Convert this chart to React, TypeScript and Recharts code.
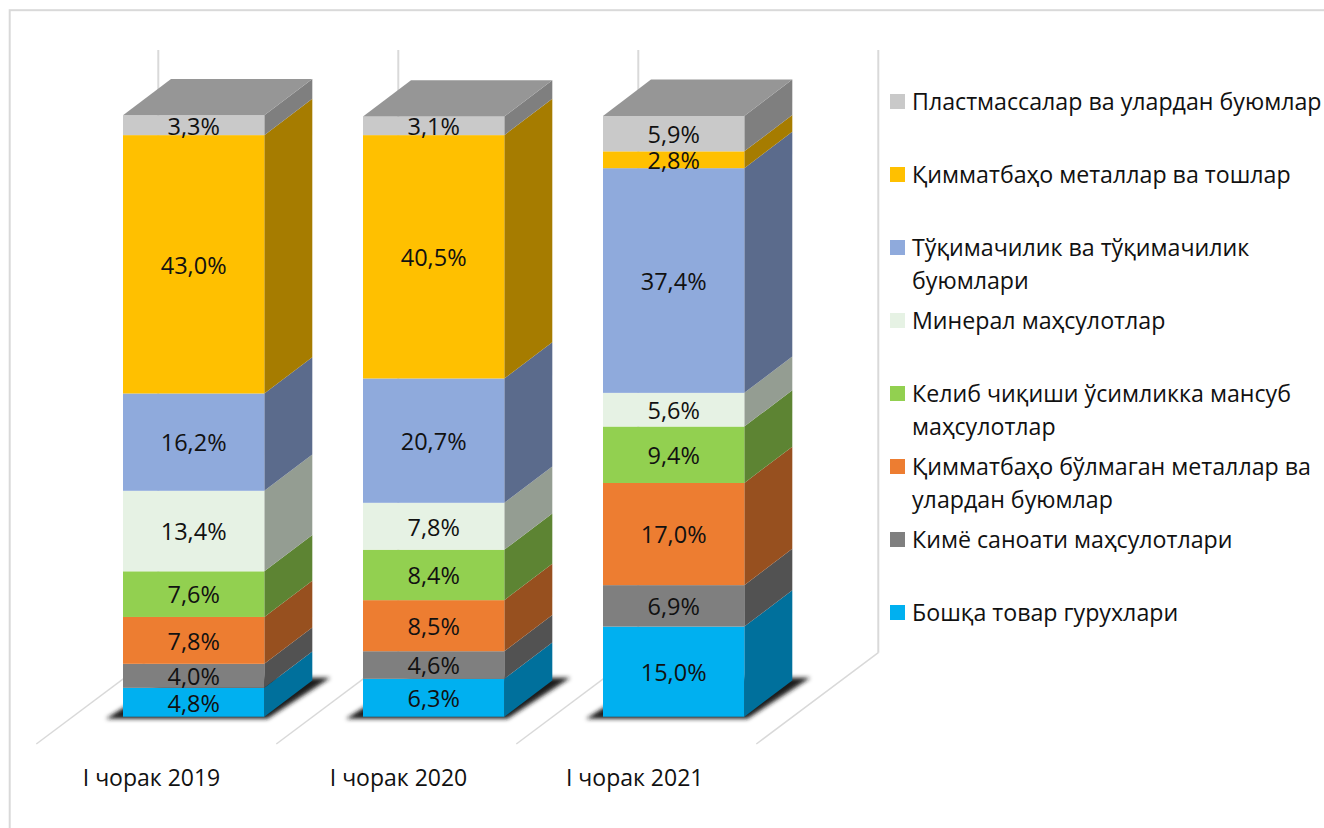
import { BarChart, Bar, XAxis, YAxis, LabelList, Legend } from "recharts";

const FONT = "'Open Sans', sans-serif";

const categories = ["I чорак 2019", "I чорак 2020", "I чорак 2021"];

const seriesNames = [
  "Бошқа товар гурухлари",
  "Кимё саноати маҳсулотлари",
  "Қимматбаҳо бўлмаган металлар ва\nулардан буюмлар",
  "Келиб чиқиши ўсимликка мансуб\nмаҳсулотлар",
  "Минерал маҳсулотлар",
  "Тўқимачилик ва тўқимачилик\nбуюмлари",
  "Қимматбаҳо металлар ва тошлар",
  "Пластмассалар ва улардан буюмлар",
];

const otherGoods = [4.8, 6.3, 15.0];
const chemicals = [4.0, 4.6, 6.9];
const baseMetals = [7.8, 8.5, 17.0];
const plantProducts = [7.6, 8.4, 9.4];
const minerals = [13.4, 7.8, 5.6];
const textiles = [16.2, 20.7, 37.4];
const preciousMetals = [43.0, 40.5, 2.8];
const plastics = [3.3, 3.1, 5.9];

const seriesValues = [
  otherGoods,
  chemicals,
  baseMetals,
  plantProducts,
  minerals,
  textiles,
  preciousMetals,
  plastics,
];

const frontColors = ["#00B0F0", "#7F7F7F", "#ED7D31", "#92D050", "#E6F2E4", "#8FAADC", "#FFC000", "#C9C9C9"];
const sideColors = ["#00709C", "#525252", "#97501F", "#5D8433", "#949D92", "#5B6B8C", "#A67C00", "#7F7F7F"];
const topColor = "#969696";
const wallColor = "#D9D9D9";

const data = categories.map((name, i) => {
  const row: Record<string, string | number> = { name };
  seriesValues.forEach((values, s) => {
    row["s" + s] = values[i];
  });
  return row;
});

// fake 3d depth of the columns
const DEPTH_X = 48;
const DEPTH_Y = 36.3;

const PLOT_LEFT = 74;
const BAND = 240;
const tickShift = [-42.5, -35.5, -39.3];

const pts = (list: number[][]) => list.map((p) => p.join(",")).join(" ");

const Segment = (props: any) => {
  const { x, y, width, height, seriesIndex } = props;
  const right = x + width;
  const bottom = y + height;
  return (
    <g>
      {seriesIndex === 0 && (
        <polygon
          points={pts([
            [x - 17, bottom + 2],
            [right + 3, bottom + 2],
            [right + 66, bottom - 39],
            [x + 48, bottom - 39],
          ])}
          fill="#1c1c1c"
          filter="url(#baseShadow)"
        />
      )}
      <polygon
        points={pts([
          [right, y],
          [right + DEPTH_X, y - DEPTH_Y],
          [right + DEPTH_X, bottom - DEPTH_Y],
          [right, bottom],
        ])}
        fill={sideColors[seriesIndex]}
      />
      <rect x={x} y={y} width={width} height={height} fill={frontColors[seriesIndex]} />
      {seriesIndex === seriesValues.length - 1 && (
        <polygon
          points={pts([
            [x, y],
            [x + DEPTH_X, y - DEPTH_Y],
            [right + DEPTH_X, y - DEPTH_Y],
            [right, y],
          ])}
          fill={topColor}
        />
      )}
    </g>
  );
};

const CategoryTick = (props: any) => {
  const { x, payload, index } = props;
  return (
    <text x={x + tickShift[index]} y={785.7} textAnchor="middle" fontSize={23} fontFamily={FONT} fill="#111">
      {payload.value}
    </text>
  );
};

const LegendList = (props: any) => {
  const items = [...(props.payload || [])].reverse();
  return (
    <div style={{ position: "relative", width: 434, height: 560, fontFamily: FONT, fontSize: 23.2, color: "#111" }}>
      {items.map((item: any, i: number) => (
        <div key={item.value} style={{ position: "absolute", left: 0, top: i * 73 }}>
          <span
            style={{ position: "absolute", left: 0, top: 0, width: 15, height: 15, background: item.color }}
          />
          <span
            style={{ position: "absolute", left: 22, top: -9, whiteSpace: "pre", lineHeight: "33px" }}
          >
            {item.value}
          </span>
        </div>
      ))}
    </div>
  );
};

const Walls = () => (
  <g>
    <rect x={9.7} y={10.2} width={1400} height={900} fill="none" stroke={wallColor} strokeWidth={2} />
    <defs>
      <filter id="baseShadow" x="-20%" y="-20%" width="140%" height="140%">
        <feGaussianBlur stdDeviation="2" />
      </filter>
    </defs>
    {[0, 1, 2, 3].map((i) => {
      const wallX = PLOT_LEFT + 84.3 + i * BAND;
      return (
        <g key={i} stroke={wallColor}>
          <line x1={wallX} y1={50} x2={wallX} y2={652.7} strokeWidth={2} />
          <line x1={wallX} y1={652.7} x2={wallX - 122} y2={744} strokeWidth={1.5} />
        </g>
      );
    })}
  </g>
);

const App = () => {
  return (
    <div style={{ position: "absolute", left: 0, top: 0, width: 1324, height: 828 }}>
      <BarChart
        width={1324}
        height={828}
        data={data}
        margin={{ top: 115.3, right: 530, bottom: 0, left: PLOT_LEFT }}
      >
        <Walls />
        <XAxis
          dataKey="name"
          axisLine={false}
          tickLine={false}
          height={111.3}
          interval={0}
          tick={<CategoryTick />}
        />
        <YAxis hide domain={[0, 100]} />
        <Legend
          layout="vertical"
          align="center"
          verticalAlign="middle"
          itemSorter="dataKey"
          wrapperStyle={{ left: 890, top: 94, width: 434, height: 560, margin: 0 }}
          content={<LegendList />}
        />
        {seriesNames.map((name, s) => (
          <Bar
            key={name}
            dataKey={"s" + s}
            name={name}
            stackId="a"
            fill={frontColors[s]}
            barSize={141.3}
            isAnimationActive={false}
            shape={(p: any) => <Segment {...p} seriesIndex={s} />}
          >
            <LabelList
              dataKey={"s" + s}
              position="center"
              fill="#111"
              fontSize={23.5}
              dy={1}
              fontFamily={FONT}
              formatter={(v: any) => Number(v).toFixed(1).replace(".", ",") + "%"}
            />
          </Bar>
        ))}
      </BarChart>
    </div>
  );
};

export default App;
